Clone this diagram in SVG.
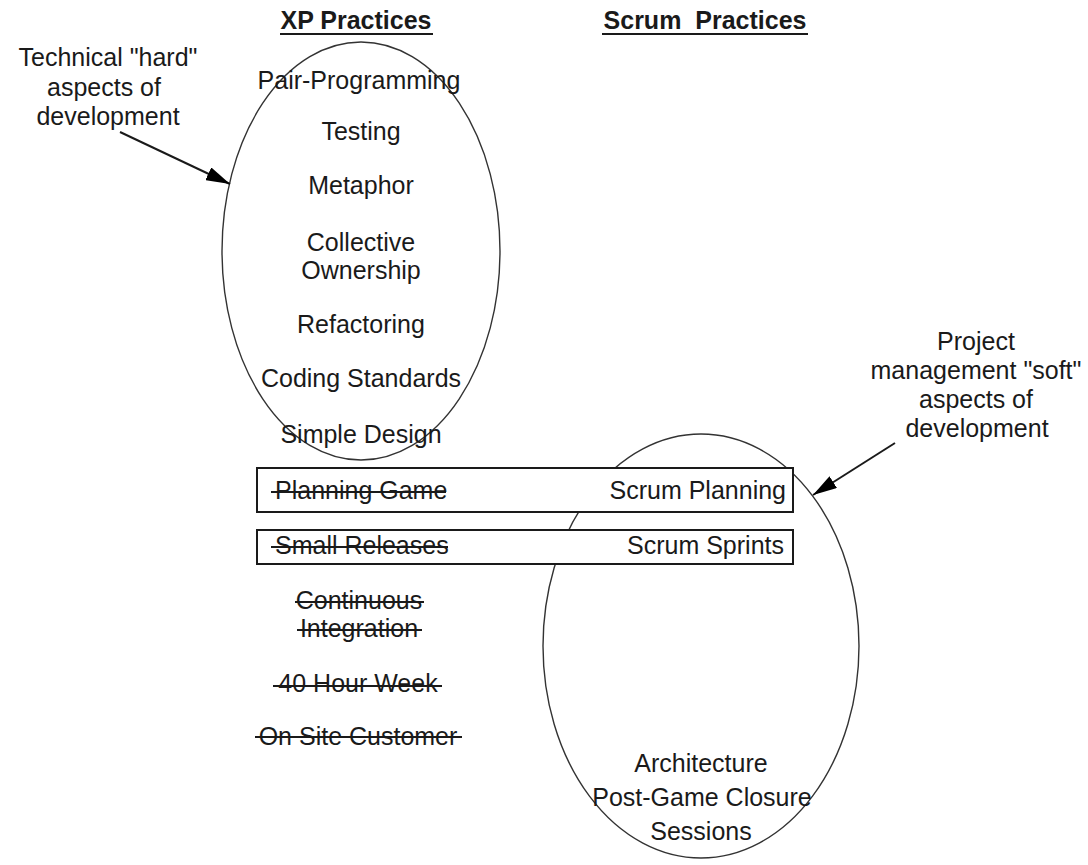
<svg xmlns="http://www.w3.org/2000/svg" width="1088" height="865" viewBox="0 0 1088 865">
<defs>
<style>
text{font-family:"Liberation Sans",Arial,sans-serif;font-size:25px;fill:#1a1a1a}
.c{text-anchor:middle}
.e{text-anchor:end}
.h{font-weight:bold}
.ell{fill:none;stroke:#333;stroke-width:1.4}
.box{fill:#fff;stroke:#1a1a1a;stroke-width:2}
.ul{stroke:#1a1a1a;stroke-width:2.2}
.st{stroke:#1a1a1a;stroke-width:2}
.conn{stroke:#1a1a1a;stroke-width:2;fill:none}
</style>
<marker id="ah" viewBox="0 0 24 14" refX="24" refY="7" markerWidth="24" markerHeight="14" markerUnits="userSpaceOnUse" orient="auto">
<path d="M0,0 L24,7 L0,14 z" fill="#000"/>
</marker>
</defs>
<rect width="1088" height="865" fill="#fff"/>

<g id="headers">
<text class="c h" x="356" y="29">XP Practices</text>
<line class="ul" x1="280" y1="34" x2="433" y2="34"/>
<text class="c h" x="705" y="29" xml:space="preserve">Scrum  Practices</text>
<line class="ul" x1="602" y1="34" x2="808" y2="34"/>
</g>

<g id="xp-ellipse">
<ellipse class="ell" cx="361" cy="251" rx="139" ry="209"/>
</g>
<g id="scrum-ellipse">
<ellipse class="ell" cx="701" cy="646" rx="158" ry="212"/>
</g>

<g id="xp-practices">
<text class="c" x="359" y="89">Pair-Programming</text>
<text class="c" x="361" y="140">Testing</text>
<text class="c" x="361" y="194">Metaphor</text>
<text class="c" x="361" y="251">Collective</text>
<text class="c" x="361" y="279">Ownership</text>
<text class="c" x="361" y="333">Refactoring</text>
<text class="c" x="361" y="387">Coding Standards</text>
<text class="c" x="361" y="443">Simple Design</text>
</g>

<g id="box-planning">
<rect class="box" x="257" y="468" width="536" height="44"/>
<text x="275" y="499">Planning Game</text>
<line class="st" x1="271" y1="492" x2="446" y2="492"/>
<text class="e" x="786" y="499">Scrum Planning</text>
</g>

<g id="box-sprints">
<rect class="box" x="257" y="530" width="536" height="34"/>
<text x="275" y="554">Small Releases</text>
<line class="st" x1="271" y1="547" x2="448" y2="547"/>
<text class="e" x="784" y="554">Scrum Sprints</text>
</g>

<g id="xp-dropped">
<text class="c" x="359" y="609">Continuous</text>
<line class="st" x1="295" y1="602" x2="424" y2="602"/>
<text class="c" x="359" y="637">Integration</text>
<line class="st" x1="297" y1="630" x2="422" y2="630"/>
<text class="c" x="358" y="692">40 Hour Week</text>
<line class="st" x1="273" y1="686" x2="442" y2="686"/>
<text class="c" x="358" y="745">On Site Customer</text>
<line class="st" x1="255" y1="737" x2="462" y2="737"/>
</g>

<g id="scrum-extra">
<text class="c" x="701" y="772">Architecture</text>
<text class="c" x="702" y="806">Post-Game Closure</text>
<text class="c" x="701" y="840">Sessions</text>
</g>

<g id="note-hard">
<text class="c" x="108" y="66">Technical "hard"</text>
<text class="c" x="104" y="96">aspects of</text>
<text class="c" x="108" y="125">development</text>
</g>

<g id="note-soft">
<text class="c" x="976" y="350">Project</text>
<text class="c" x="976" y="379">management "soft"</text>
<text class="c" x="976" y="408">aspects of</text>
<text class="c" x="977" y="437">development</text>
</g>

<g id="connectors">
<line class="conn" x1="120" y1="132" x2="230" y2="184" marker-end="url(#ah)"/>
<line class="conn" x1="895" y1="443" x2="813" y2="495" marker-end="url(#ah)"/>
</g>
</svg>
